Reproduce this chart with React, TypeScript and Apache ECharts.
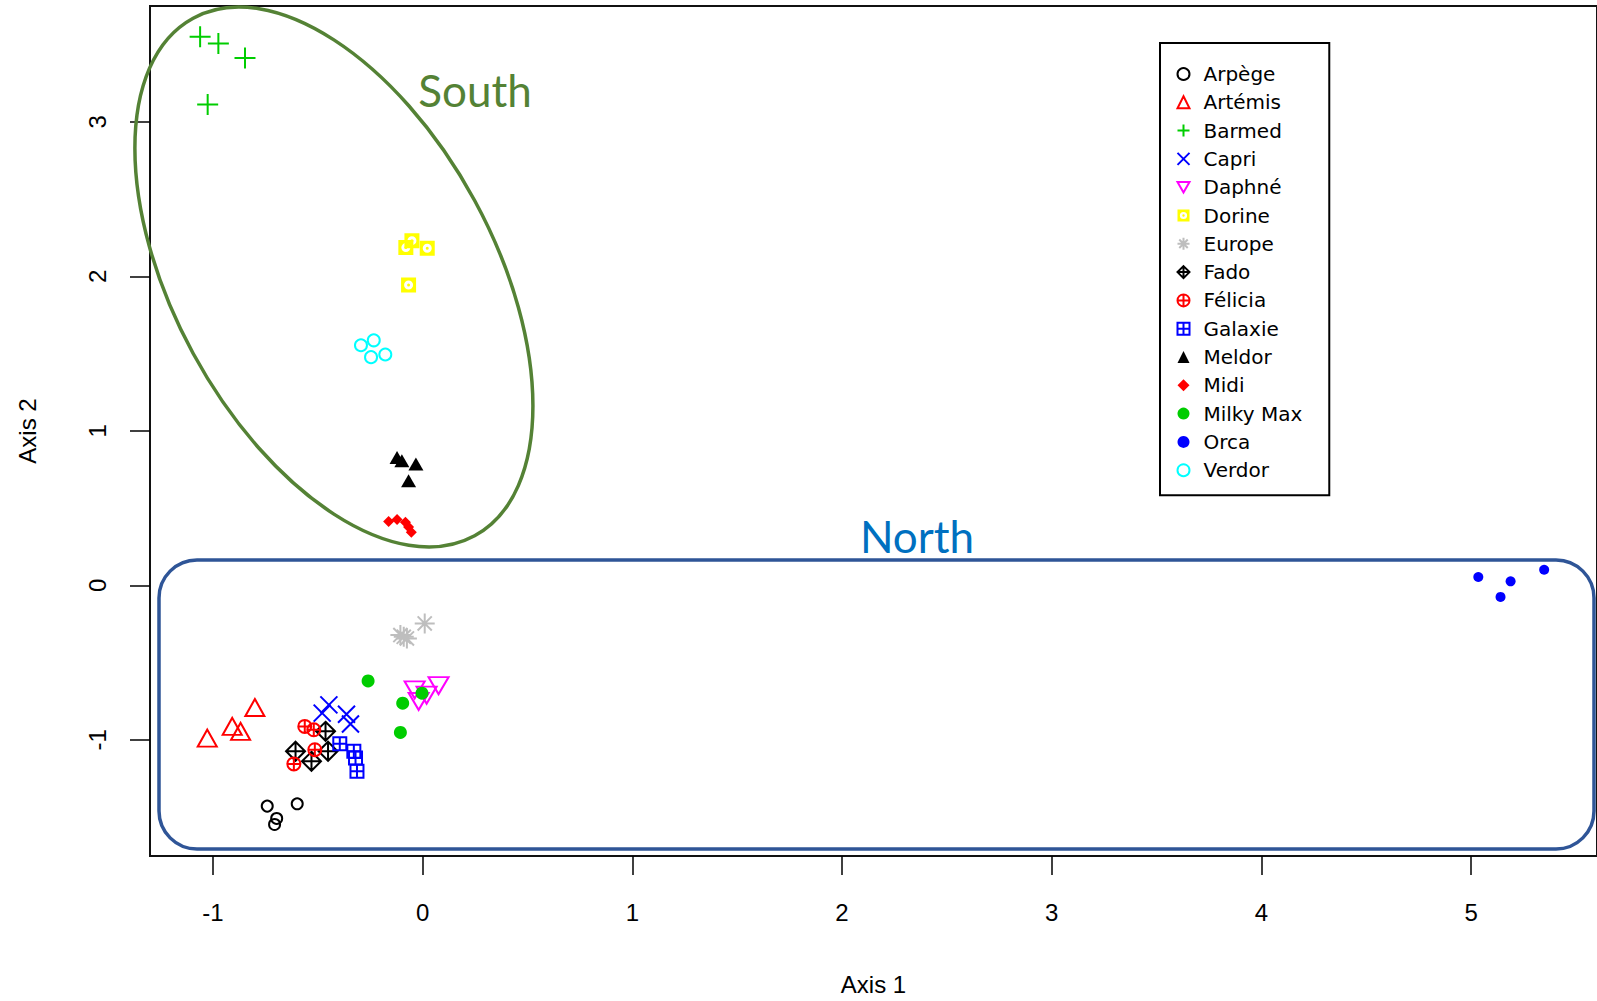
import React, { useEffect, useRef } from "react";
import * as echarts from "echarts";

// ---- data (Axis 1, Axis 2) ----
const arpege = [[-0.741, -1.429], [-0.598, -1.414], [-0.696, -1.509], [-0.706, -1.548]];
const artemis = [[-1.027, -0.989], [-0.908, -0.913], [-0.868, -0.945], [-0.8, -0.791]];
const barmed = [[-1.061, 3.551], [-0.974, 3.508], [-0.847, 3.414], [-1.025, 3.113]];
const capri = [[-0.447, -0.774], [-0.479, -0.827], [-0.363, -0.834], [-0.344, -0.898]];
const daphne = [[-0.038, -0.677], [0.076, -0.649], [-0.019, -0.752], [0.019, -0.711]];
const dorine = [[-0.08, 2.186], [-0.051, 2.231], [0.022, 2.182], [-0.067, 1.944]];
const europe = [[-0.09, -0.333], [0.01, -0.247], [-0.106, -0.322], [-0.075, -0.344]];
const fado = [[-0.606, -1.074], [-0.53, -1.139], [-0.463, -0.945], [-0.451, -1.074]];
const felicia = [[-0.562, -0.913], [-0.519, -0.935], [-0.514, -1.064], [-0.614, -1.156]];
const galaxie = [[-0.395, -1.025], [-0.328, -1.074], [-0.32, -1.118], [-0.313, -1.203]];
const meldor = [[-0.122, 0.828], [-0.099, 0.806], [-0.032, 0.785], [-0.067, 0.677]];
const midi = [[-0.162, 0.413], [-0.122, 0.426], [-0.082, 0.409], [-0.054, 0.344], [-0.067, 0.377]];
const milkyMax = [[-0.26, -0.619], [-0.095, -0.763], [-0.106, -0.952], [-0.003, -0.698]];
const orca = [[5.034, 0.054], [5.188, 0.026], [5.14, -0.075], [5.348, 0.101]];
const verdor = [[-0.294, 1.554], [-0.233, 1.586], [-0.246, 1.477], [-0.178, 1.494]];

const xTicks = [-1, 0, 1, 2, 3, 4, 5];
const yTicks = [-1, 0, 1, 2, 3];

// symbol shapes (R pch look-alikes)
const PLUS = "path://M0,5L10,5M5,0L5,10";
const CROSS = "path://M0,0L10,10M10,0L0,10";
const TRI_DOWN = "path://M0,0L10,0L5,8.66Z";
const SQ_RING = "path://M0,0L10,0L10,10L0,10Z M5,2A3,3 0 0,0 5,8A3,3 0 0,0 5,2Z M5,4A1,1 0 0,1 5,6A1,1 0 0,1 5,4Z";
const ASTER = "path://M0,5L10,5M5,0L5,10M1.46,1.46L8.54,8.54M8.54,1.46L1.46,8.54";
const DIAM_PLUS = "path://M5,0L10,5L5,10L0,5Z M0,5L10,5 M5,0L5,10";
const CIRC_PLUS = "path://M10,5A5,5 0 1,1 0,5A5,5 0 1,1 10,5Z M0,5L10,5 M5,0L5,10";
const SQ_PLUS = "path://M0,0L10,0L10,10L0,10Z M0,5L10,5 M5,0L5,10";

type Def = { name: string; data: number[][]; symbol: string; size: number | number[]; color: string; open: boolean };

const defs: Def[] = [
  { name: "Arpège", data: arpege, symbol: "circle", size: 11, color: "#000000", open: true },
  { name: "Artémis", data: artemis, symbol: "triangle", size: [19, 17], color: "#FF0000", open: true },
  { name: "Barmed", data: barmed, symbol: PLUS, size: 21, color: "#00CD00", open: true },
  { name: "Capri", data: capri, symbol: CROSS, size: 17, color: "#0000FF", open: true },
  { name: "Daphné", data: daphne, symbol: TRI_DOWN, size: [20, 17], color: "#FF00FF", open: true },
  { name: "Dorine", data: dorine, symbol: SQ_RING, size: 15, color: "#FFFF00", open: false },
  { name: "Europe", data: europe, symbol: ASTER, size: 20, color: "#BEBEBE", open: true },
  { name: "Fado", data: fado, symbol: DIAM_PLUS, size: 19, color: "#000000", open: true },
  { name: "Félicia", data: felicia, symbol: CIRC_PLUS, size: 13, color: "#FF0000", open: true },
  { name: "Galaxie", data: galaxie, symbol: SQ_PLUS, size: 13, color: "#0000FF", open: true },
  { name: "Meldor", data: meldor, symbol: "triangle", size: [15, 13], color: "#000000", open: false },
  { name: "Midi", data: midi, symbol: "diamond", size: [11, 11], color: "#FF0000", open: false },
  { name: "Milky Max", data: milkyMax, symbol: "circle", size: 13, color: "#00CD00", open: false },
  { name: "Orca", data: orca, symbol: "circle", size: 10, color: "#0000FF", open: false },
  { name: "Verdor", data: verdor, symbol: "circle", size: 12, color: "#00FFFF", open: true },
];

const AXIS_FONT = "'Liberation Sans', Arial, sans-serif";

export default function App() {
  const ref = useRef<HTMLDivElement>(null);
  useEffect(() => {
    if (!ref.current) return;
    const chart = echarts.init(ref.current, undefined, { renderer: "svg" });
    const series = defs.map((d) => ({
      type: "scatter",
      name: d.name,
      data: d.data,
      symbol: d.symbol,
      symbolSize: d.size,
      itemStyle: d.open
        ? { color: "none", borderColor: d.color, borderWidth: 2, opacity: 1 }
        : { color: d.color, borderWidth: 0, opacity: 1 },
      emphasis: { disabled: true },
    }));
    chart.setOption({
      animation: false,
      backgroundColor: "#ffffff",
      grid: {
        show: true,
        left: 150,
        top: 6,
        width: 1449.7,
        height: 853.2,
        borderColor: "#111",
        borderWidth: 2,
        backgroundColor: "transparent",
      },
      xAxis: {
        type: "value",
        min: -1.3,
        max: 5.6,
        splitLine: { show: false },
        axisLine: { show: true, onZero: false, lineStyle: { color: "#111", width: 2 } },
        axisTick: { show: true, inside: false, length: 19, customValues: xTicks, lineStyle: { color: "#000", width: 1.5 } },
        axisLabel: { customValues: xTicks, margin: 44, fontSize: 24, color: "#000", fontFamily: AXIS_FONT },
        name: "Axis 1",
        nameLocation: "middle",
        nameGap: 116,
        nameTextStyle: { fontSize: 24, color: "#000", fontFamily: AXIS_FONT },
      },
      yAxis: {
        type: "value",
        min: -1.752,
        max: 3.75,
        splitLine: { show: false },
        axisLine: { show: true, onZero: false, lineStyle: { color: "#111", width: 2 } },
        axisTick: { show: true, inside: false, length: 20, customValues: yTicks, lineStyle: { color: "#000", width: 1.5 } },
        axisLabel: { customValues: yTicks, rotate: 90, margin: 41, fontSize: 24, color: "#000", fontFamily: AXIS_FONT },
        name: "Axis 2",
        nameLocation: "middle",
        nameGap: 111,
        nameTextStyle: { fontSize: 24, color: "#000", fontFamily: AXIS_FONT },
      },
      legend: {
        orient: "vertical",
        left: 1160,
        top: 43,
        itemWidth: 12,
        itemHeight: 12,
        itemGap: 8.3,
        padding: [21, 27, 15, 15],
        borderColor: "#000",
        borderWidth: 2,
        backgroundColor: "#fff",
        selectedMode: false,
        textStyle: { fontSize: 20, color: "#000", fontFamily: "'DejaVu Sans', sans-serif", padding: [0, 0, 0, 9] },
        data: defs.map((d) => d.name),
      },
      graphic: [
        {
          type: "ellipse",
          x: 333.9,
          y: 277,
          rotation: -1.0728,
          shape: { cx: 0, cy: 0, rx: 294.4, ry: 160.1 },
          style: { fill: "none", stroke: "#548235", lineWidth: 3.5 },
          z: 100,
          silent: true,
        },
        {
          type: "rect",
          x: 159,
          y: 560,
          shape: { x: 0, y: 0, width: 1435, height: 289, r: 38 },
          style: { fill: "none", stroke: "#2F5597", lineWidth: 3.5 },
          z: 100,
          silent: true,
        },
        {
          type: "text",
          x: 475,
          y: 90,
          z: 100,
          style: { text: "South", fill: "#548235", fontSize: 44, fontFamily: "Lato, 'Open Sans', sans-serif", align: "center", verticalAlign: "middle" },
        },
        {
          type: "text",
          x: 917,
          y: 536,
          z: 100,
          style: { text: "North", fill: "#0070C0", fontSize: 44, fontFamily: "Lato, 'Open Sans', sans-serif", align: "center", verticalAlign: "middle" },
        },
      ],
      series,
    });
    return () => chart.dispose();
  }, []);
  return <div ref={ref} style={{ position: "absolute", left: 0, top: 0, width: 1597, height: 1001 }} />;
}
